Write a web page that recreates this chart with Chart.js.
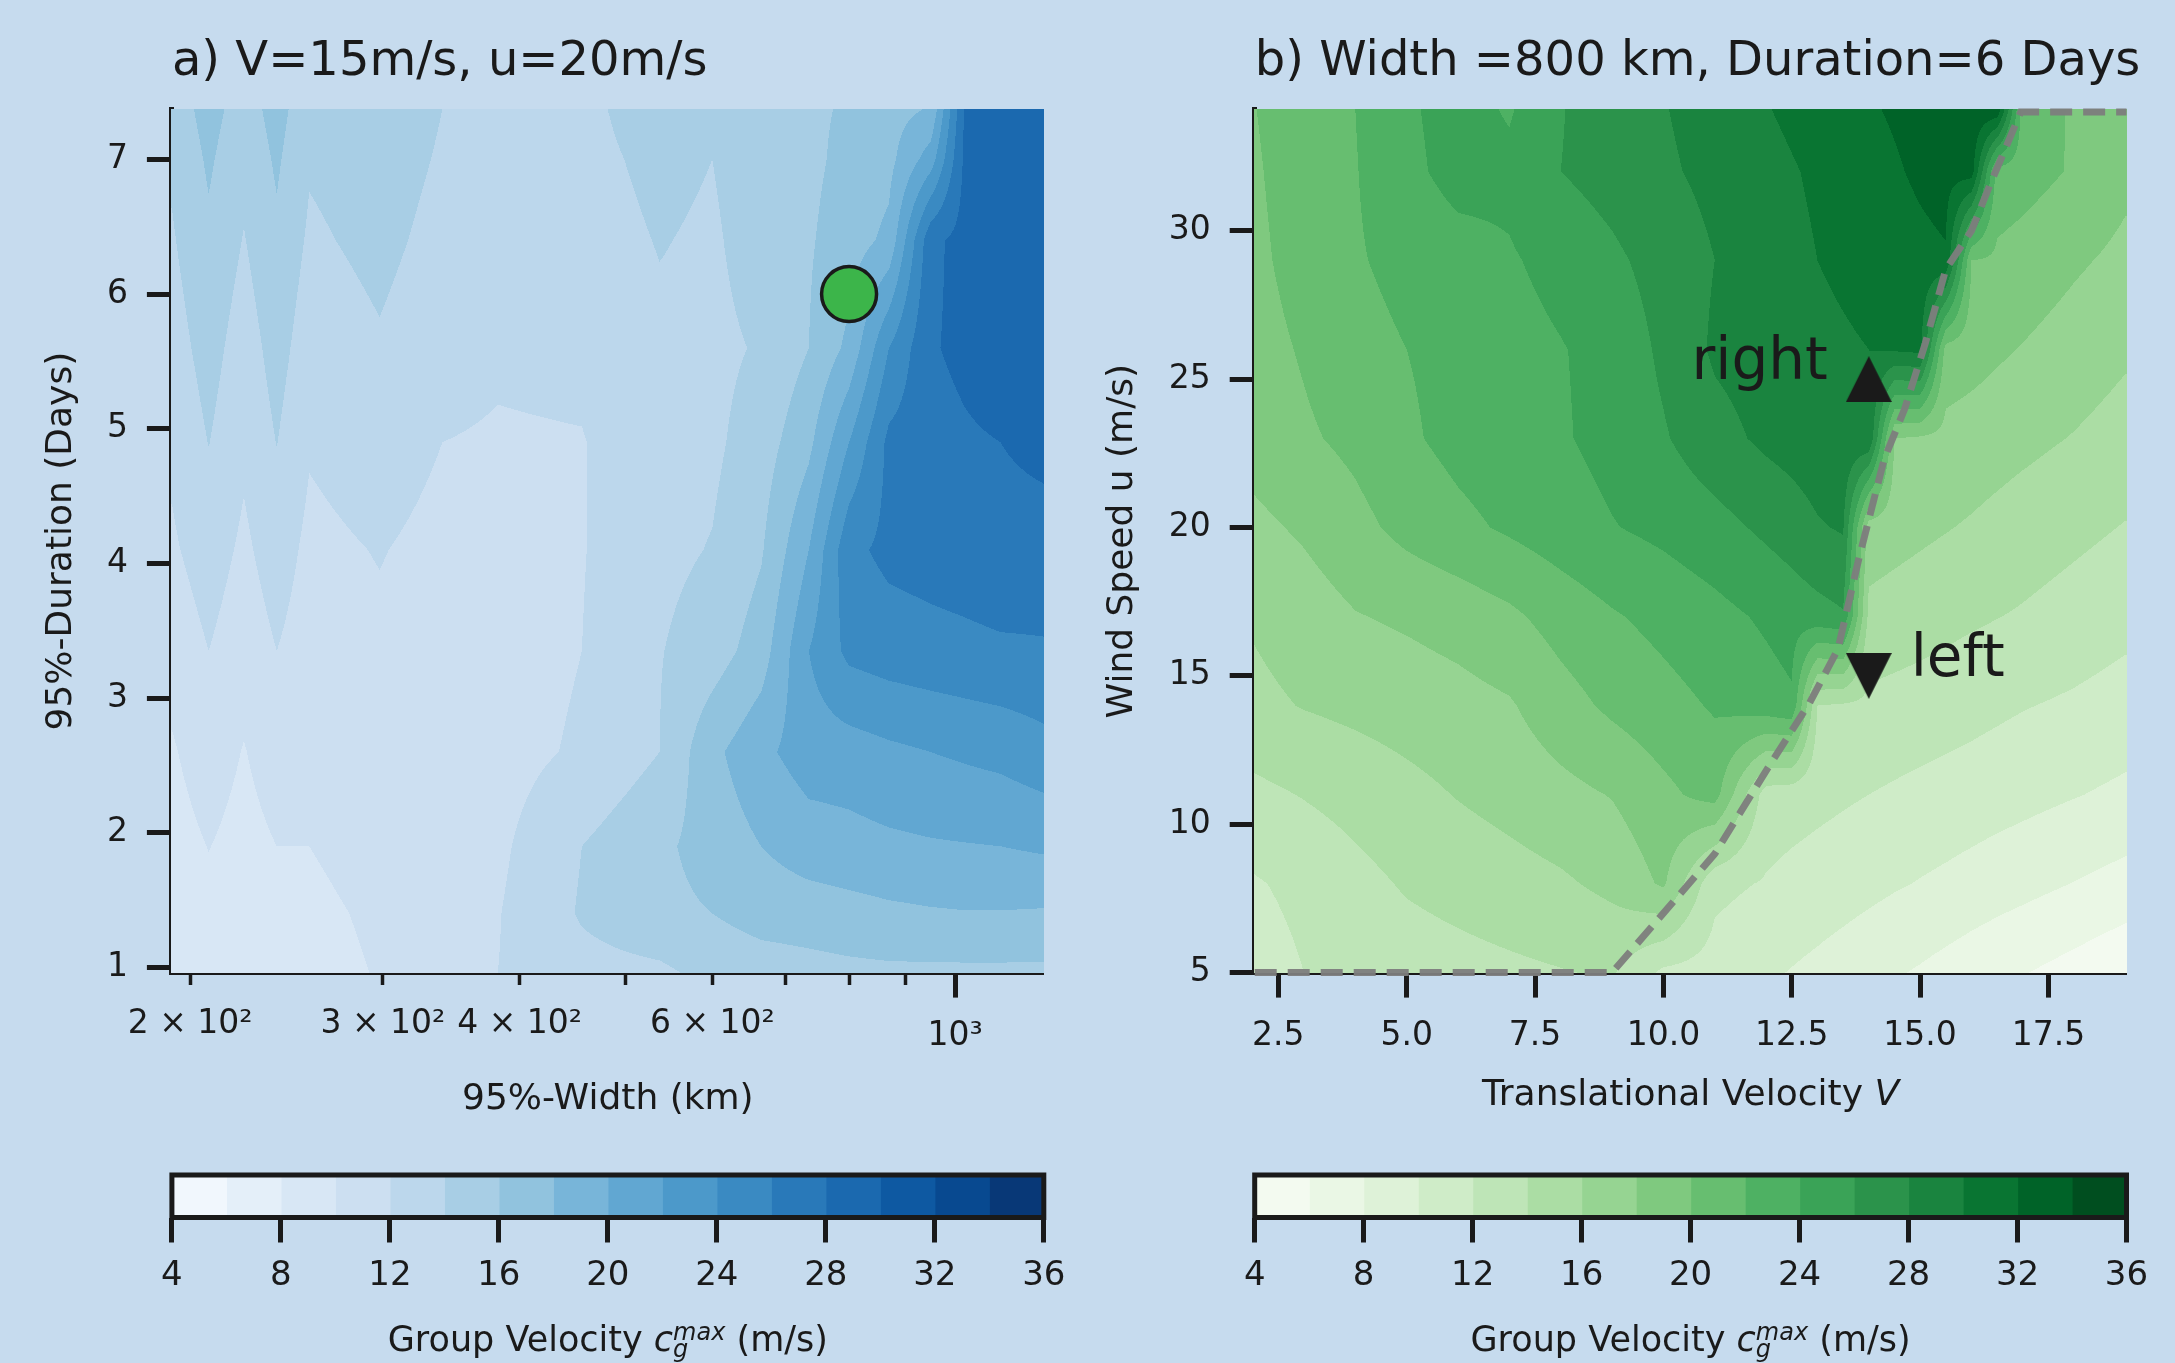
<!DOCTYPE html>
<html>
<head>
<meta charset="utf-8">
<script src="https://cdn.jsdelivr.net/npm/chart.js@4.4.0/dist/chart.umd.min.js"></script>
<style>
  html, body { margin: 0; padding: 0; background: #c6dbee; }
  #wrap { position: relative; width: 2175px; height: 1363px; overflow: hidden; }
  #wrap canvas { position: absolute; left: 0; top: 0; }
</style>
</head>
<body>
<div id="wrap">
  <canvas id="panelA" width="2175" height="1363"></canvas>
  <canvas id="panelB" width="2175" height="1363"></canvas>
  <canvas id="cbarA" width="2175" height="1363"></canvas>
  <canvas id="cbarB" width="2175" height="1363"></canvas>
</div>
<script>
// Contour levels of the group velocity (m/s), shared by both panels
const levels = [4, 6, 8, 10, 12, 14, 16, 18, 20, 22, 24, 26, 28, 30, 32, 34, 36];
const cbarTicks = [4, 8, 12, 16, 20, 24, 28, 32, 36];

// Panel a: c_g^max over storm width (km) and duration (days), V=15 m/s, u=20 m/s
const widthKm = [192.5, 208, 224, 240, 257, 298, 340, 382, 456, 537, 600, 665, 735, 800, 870, 950, 1020, 1100, 1205];
const durationDays = [0.96, 1.4, 1.9, 2.6, 3.35, 4.1, 4.9, 5.6, 6.4, 7.0, 7.37];
const cgWidthDuration = [
  [8.5, 9.2, 8.6, 9.0, 9.4, 10.1, 10.4, 12.0, 13.3, 13.6, 14.6, 15.0, 15.3, 15.5, 15.6, 15.6, 15.6, 15.6, 15.6],
  [8.8, 9.5, 8.9, 9.4, 9.6, 10.3, 10.5, 11.9, 14.2, 15.5, 16.0, 16.8, 17.0, 17.3, 17.6, 17.8, 17.9, 17.9, 17.8],
  [9.2, 10.05, 9.3, 10.0, 10.0, 10.7, 10.7, 11.6, 14.0, 15.6, 16.8, 18.0, 19.0, 19.3, 19.6, 19.8, 19.9, 20.0, 20.3],
  [9.8, 11.0, 9.9, 11.0, 10.5, 11.2, 10.9, 11.2, 12.3, 14.0, 17.5, 19.5, 21.0, 21.1, 21.6, 22.0, 22.3, 22.6, 23.3],
  [10.7, 12.0, 10.8, 12.0, 11.0, 11.6, 11.1, 11.0, 12.0, 13.9, 15.0, 17.0, 22.0, 24.5, 25.0, 25.3, 25.5, 25.7, 25.8],
  [11.7, 13.0, 11.6, 13.0, 11.5, 12.1, 11.4, 11.3, 11.9, 13.5, 14.1, 15.8, 20.0, 25.5, 26.5, 26.8, 27.0, 27.3, 27.2],
  [12.4, 14.05, 12.4, 14.05, 12.2, 13.0, 12.0, 11.8, 11.9, 13.5, 13.6, 15.0, 17.5, 22.0, 26.5, 27.2, 27.7, 28.0, 28.5],
  [13.1, 14.8, 13.0, 14.8, 12.9, 13.8, 12.8, 12.3, 12.5, 13.6, 13.5, 14.2, 16.0, 18.5, 24.0, 27.8, 28.5, 29.3, 29.3],
  [13.8, 15.6, 13.9, 15.6, 13.7, 14.5, 13.4, 12.8, 13.1, 14.1, 13.7, 15.0, 15.8, 17.0, 18.5, 27.5, 28.7, 29.3, 29.6],
  [14.3, 16.3, 14.5, 16.3, 14.2, 14.9, 13.8, 13.1, 13.4, 14.5, 14.0, 15.2, 15.6, 16.5, 17.4, 21.0, 28.4, 29.2, 29.7],
  [14.8, 16.8, 15.0, 16.8, 14.6, 15.2, 14.0, 13.3, 13.5, 15.0, 14.3, 15.3, 15.7, 16.2, 17.2, 18.2, 28.2, 29.2, 29.7]
];
const widthTicks = [200, 300, 400, 500, 600, 700, 800, 900, 1000];
const widthTickLabels = ['2 × 10²', '3 × 10²', '4 × 10²', '', '6 × 10²', '', '', '', '10³'];
const durationTicks = [1, 2, 3, 4, 5, 6, 7];
const markWidth = [800];
const markDuration = [6];

// Panel b: c_g^max over translational velocity V and wind speed u, width 800 km, 6 days
const transV = [2, 3, 4, 5, 6, 7, 8, 9, 10, 11, 12, 12.5, 13, 13.5, 14, 14.5, 15, 15.5, 16, 16.5, 17, 18, 19];
const windU = [5, 8, 11, 14, 17, 20, 23, 26, 29, 32, 34.08];
const cgVelocityWind = [
  [11.0, 12.0, 12.6, 13.0, 13.3, 13.6, 13.9, 14.2, 11.6, 11.2, 10.3, 9.9, 9.5, 9.05, 8.6, 8.2, 7.8, 7.35, 6.9, 6.5, 6.1, 5.3, 4.4],
  [11.8, 12.5, 13.4, 14.2, 14.7, 15.2, 15.7, 16.5, 18.3, 12.5, 11.85, 11.5, 11.2, 10.9, 10.55, 10.2, 9.9, 9.6, 9.25, 8.9, 8.6, 7.95, 7.3],
  [13.5, 14.1, 14.7, 15.4, 16.1, 16.7, 17.4, 18.1, 19.5, 20.8, 13.0, 12.75, 12.5, 12.25, 12.0, 11.75, 11.5, 11.3, 11.1, 10.85, 10.6, 10.1, 9.6],
  [15.5, 16.1, 16.5, 16.9, 17.3, 17.8, 19.2, 20.4, 21.3, 22.2, 23.2, 23.7, 14.0, 13.75, 13.5, 13.3, 13.1, 12.85, 12.6, 12.35, 12.1, 11.7, 11.2],
  [16.2, 17.0, 17.9, 18.3, 18.8, 19.6, 20.8, 21.8, 22.6, 23.4, 24.3, 24.8, 25.3, 25.8, 15.5, 15.2, 14.9, 14.6, 14.3, 14.05, 13.8, 13.2, 12.6],
  [17.5, 18.3, 19.4, 20.6, 21.5, 22.3, 23.1, 23.9, 24.5, 25.3, 26.4, 27.0, 27.8, 28.2, 17.0, 16.7, 16.4, 16.1, 15.8, 15.45, 15.1, 14.5, 13.9],
  [18.8, 19.7, 20.5, 21.7, 22.6, 23.2, 23.8, 24.6, 25.8, 27.3, 28.4, 28.8, 29.2, 29.6, 30.0, 18.0, 17.7, 17.4, 17.1, 16.8, 16.5, 15.9, 15.2],
  [19.2, 20.2, 21.3, 22.0, 22.6, 23.3, 23.9, 24.6, 26.4, 28.3, 28.9, 29.15, 29.4, 29.7, 30.0, 30.25, 30.5, 19.2, 18.8, 18.3, 17.9, 17.1, 16.3],
  [19.5, 20.8, 21.8, 22.6, 23.2, 23.8, 24.6, 25.6, 26.8, 28.0, 29.0, 29.5, 30.0, 30.4, 30.8, 31.15, 31.5, 31.8, 20.0, 19.6, 19.2, 18.3, 17.5],
  [19.7, 21.1, 21.9, 23.5, 24.7, 24.5, 26.0, 26.8, 27.7, 28.5, 29.4, 29.85, 30.3, 30.8, 31.3, 31.8, 32.3, 32.7, 33.0, 21.2, 20.8, 19.8, 18.5],
  [19.9, 21.2, 22.0, 23.7, 24.8, 23.8, 25.9, 27.0, 27.9, 28.8, 29.9, 30.35, 30.8, 31.3, 31.8, 32.2, 32.6, 33.0, 33.5, 33.6, 21.0, 19.8, 19.3]
];
const vTicks = [2.5, 5, 7.5, 10, 12.5, 15, 17.5];
const vTickLabels = ['2.5', '5.0', '7.5', '10.0', '12.5', '15.0', '17.5'];
const uTicks = [5, 10, 15, 20, 25, 30];
// left/right separation line
const splitV = [2.04, 9.0, 11.0, 12.0, 12.85, 13.4, 13.8, 14.3, 14.7, 15.1, 15.5, 16.0, 16.35, 16.96, 19.02];
const splitU = [5.0, 5.0, 9.0, 11.8, 14.1, 15.9, 18.9, 22.3, 24.0, 26.2, 28.7, 30.0, 31.5, 34.0, 34.0];
const markV = [14, 14];
const markU = [25, 15];
const markText = ['right', 'left'];

// ---- styling helpers ----
const FONT = '"DejaVu Sans", sans-serif';
const INK = '#1a1a1a';
const bluesAnchors = ['#f7fbff', '#deebf7', '#c6dbef', '#9ecae1', '#6baed6', '#4292c6', '#2171b5', '#08519c', '#08306b'];
const greensAnchors = ['#f7fcf5', '#e5f5e0', '#c7e9c0', '#a1d99b', '#74c476', '#41ab5d', '#238b45', '#006d2c', '#00441b'];

function hexToRgb(h) {
  return [1, 3, 5].map(i => parseInt(h.slice(i, i + 2), 16));
}
function sampleMap(anchors, t) {
  const pos = t * (anchors.length - 1);
  const i = Math.min(anchors.length - 2, Math.floor(pos));
  const f = pos - i;
  const a = hexToRgb(anchors[i]), b = hexToRgb(anchors[i + 1]);
  return 'rgb(' + a.map((c, k) => Math.round(c + (b[k] - c) * f)).join(',') + ')';
}
function bandColors(anchors) {
  const n = levels.length - 1;
  return levels.slice(0, -1).map((_, i) => sampleMap(anchors, (i + 0.5) / n));
}
const bluesBands = bandColors(bluesAnchors);
const greensBands = bandColors(greensAnchors);

// filled contours: bilinear interpolation of the grid, banded at the contour levels
function contourPlugin(xs, ys, grid, colors, logX) {
  const rgb = colors.map(c => c.match(/\d+/g).map(Number));
  const fx = logX ? Math.log10 : (v => v);
  const locate = (g, v) => {
    let k = 0;
    while (k < g.length - 2 && v > g[k + 1]) k++;
    const t = Math.min(1, Math.max(0, (v - g[k]) / (g[k + 1] - g[k])));
    return [k, t];
  };
  return {
    id: 'contourFill',
    beforeDatasetsDraw(chart) {
      const {ctx, chartArea: a, scales} = chart;
      const gx = xs.map(fx);
      const x0 = Math.floor(a.left), y0 = Math.floor(a.top);
      const w = Math.ceil(a.right) - x0, h = Math.ceil(a.bottom) - y0;
      const cols = [], rows = [];
      for (let i = 0; i < w; i++) cols.push(locate(gx, fx(scales.x.getValueForPixel(x0 + i + 0.5))));
      for (let j = 0; j < h; j++) rows.push(locate(ys, scales.y.getValueForPixel(y0 + j + 0.5)));
      const img = ctx.createImageData(w, h);
      const d = img.data;
      for (let j = 0; j < h; j++) {
        const [r, tr] = rows[j];
        const g0 = grid[r], g1 = grid[r + 1];
        for (let i = 0; i < w; i++) {
          const [c, tc] = cols[i];
          const v = (1 - tr) * ((1 - tc) * g0[c] + tc * g0[c + 1]) +
                    tr * ((1 - tc) * g1[c] + tc * g1[c + 1]);
          if (v < levels[0] || v > levels[levels.length - 1]) continue;
          let b = 0;
          while (b < levels.length - 2 && v >= levels[b + 1]) b++;
          const p = (j * w + i) * 4;
          d[p] = rgb[b][0]; d[p + 1] = rgb[b][1]; d[p + 2] = rgb[b][2]; d[p + 3] = 255;
        }
      }
      ctx.putImageData(img, x0, y0);
    }
  };
}

function panelTitle(text) {
  return {
    id: 'panelTitle',
    afterDraw(chart) {
      const {ctx, chartArea} = chart;
      ctx.save();
      ctx.font = '48px ' + FONT;
      ctx.fillStyle = INK;
      ctx.textAlign = 'left';
      ctx.textBaseline = 'alphabetic';
      ctx.fillText(text, chartArea.left, 75);
      ctx.restore();
    }
  };
}

// draws a label made of runs of text with their own font and baseline shift, centred on cx
function drawRuns(ctx, runs, cx, baseline) {
  const widths = runs.map(r => { ctx.font = r.f; return r.stack ? 0 : ctx.measureText(r.t).width; });
  runs.forEach((r, i) => {
    if (r.stack) { ctx.font = r.f; widths[i - 1] = Math.max(widths[i - 1], ctx.measureText(r.t).width); }
  });
  const total = widths.reduce((s, w) => s + w, 0);
  let x = cx - total / 2;
  let prevX = x;
  ctx.fillStyle = INK;
  ctx.textAlign = 'left';
  ctx.textBaseline = 'alphabetic';
  runs.forEach((r, i) => {
    ctx.font = r.f;
    if (r.stack) { ctx.fillText(r.t, prevX, baseline + r.dy); return; }
    ctx.fillText(r.t, x, baseline + r.dy);
    prevX = x;
    x += widths[i];
  });
}

function fixedTicks(values) {
  return scale => { scale.ticks = values.map(v => ({value: v})); };
}

const tickFont = {family: FONT, size: 33};
const titleFont = {family: FONT, size: 36};

function yAxis(min, max, ticks, width, title, titlePad) {
  return {
    type: 'linear', min, max,
    afterBuildTicks: fixedTicks(ticks),
    afterFit: s => { s.width = width; },
    border: {display: true, width: 5, color: INK},
    grid: {drawOnChartArea: false, tickLength: 25, tickWidth: 5, tickColor: INK},
    ticks: {font: tickFont, color: INK, padding: 19, autoSkip: false},
    title: {display: true, text: title, font: titleFont, color: INK, padding: {top: titlePad, bottom: 0}}
  };
}

const baseOptions = {
  responsive: false,
  animation: false,
  devicePixelRatio: 1,
  events: [],
  plugins: {legend: {display: false}, tooltip: {enabled: false}}
};

// ---- panel a ----
new Chart(document.getElementById('panelA'), {
  type: 'scatter',
  data: {
    datasets: [{
      data: markWidth.map((w, i) => ({x: w, y: markDuration[i]})),
      pointRadius: 27.5,
      pointBackgroundColor: '#3cb54a',
      pointBorderColor: INK,
      pointBorderWidth: 3.5,
      clip: false
    }]
  },
  options: {
    ...baseOptions,
    layout: {padding: {left: 20, top: 109.7, right: 1131.2, bottom: 240.4}},
    scales: {
      x: {
        type: 'logarithmic', min: 192.5, max: 1205,
        afterBuildTicks: s => { s.ticks = widthTicks.map(v => ({value: v, major: v === 1000})); },
        afterFit: s => { s.height = 150; },
        border: {display: true, width: 5, color: INK},
        grid: {
          drawOnChartArea: false, tickLength: 25, tickColor: INK,
          tickWidth: c => (c.tick && c.tick.major ? 5 : 3.5),
          tickBorderDash: c => (c.tick && c.tick.major ? [] : [10, 200])
        },
        ticks: {
          // the major (10³) label sits lower, below its longer tick
          font: c => (c.tick && c.tick.major ? {family: FONT, size: 33, lineHeight: 0.64} : tickFont),
          color: INK, padding: 7, maxRotation: 0, autoSkip: false,
          callback: (v, i) => (widthTicks[i] === 1000 ? ['', widthTickLabels[i]] : widthTickLabels[i])
        },
        title: {display: true, text: '95%-Width (km)', font: titleFont, color: INK, padding: {top: 0, bottom: 1}}
      },
      y: yAxis(0.962, 7.369, durationTicks, 151.9, '95%-Duration (Days)', 19.8)
    }
  },
  plugins: [contourPlugin(widthKm, durationDays, cgWidthDuration, bluesBands, true),
            panelTitle('a) V=15m/s, u=20m/s')]
});

// ---- panel b ----
function triangleImage(up) {
  const c = document.createElement('canvas');
  c.width = 46; c.height = 46;
  const g = c.getContext('2d');
  g.fillStyle = INK;
  g.beginPath();
  if (up) { g.moveTo(23, 0); g.lineTo(46, 46); g.lineTo(0, 46); }
  else { g.moveTo(0, 0); g.lineTo(46, 0); g.lineTo(23, 46); }
  g.closePath();
  g.fill();
  return c;
}

const panelBText = {
  id: 'panelBText',
  afterDatasetsDraw(chart) {
    const {ctx, chartArea: a, scales: {x, y}} = chart;
    ctx.save();
    ctx.font = '58px ' + FONT;
    ctx.fillStyle = INK;
    ctx.textBaseline = 'alphabetic';
    markText.forEach((t, i) => {
      const px = x.getPixelForValue(markV[i]);
      const py = y.getPixelForValue(markU[i]);
      if (i === 0) { ctx.textAlign = 'right'; ctx.fillText(t, px - 41, py); }
      else { ctx.textAlign = 'left'; ctx.fillText(t, px + 42, py); }
    });
    // x axis label with italic V
    drawRuns(ctx, [
      {t: 'Translational Velocity ', f: '36px ' + FONT, dy: 0},
      {t: 'V', f: 'italic 36px ' + FONT, dy: 0}
    ], (a.left + a.right) / 2, 1105);
    ctx.restore();
  }
};

new Chart(document.getElementById('panelB'), {
  type: 'scatter',
  data: {
    datasets: [
      {
        type: 'line',
        data: splitV.map((v, i) => ({x: v, y: splitU[i]})),
        showLine: true,
        pointRadius: 0,
        borderColor: 'rgba(125,125,125,0.95)',
        borderWidth: 7,
        borderDash: [22, 11],
        tension: 0,
        clip: false
      },
      {
        data: markV.map((v, i) => ({x: v, y: markU[i]})),
        pointStyle: [triangleImage(true), triangleImage(false)],
        clip: false
      }
    ]
  },
  options: {
    ...baseOptions,
    layout: {padding: {left: 1101.4, top: 109.7, right: 48.5, bottom: 240.4}},
    scales: {
      x: {
        type: 'linear', min: 2.04, max: 19.02,
        afterBuildTicks: fixedTicks(vTicks),
        afterFit: s => { s.height = 150; },
        border: {display: true, width: 5, color: INK},
        grid: {drawOnChartArea: false, tickLength: 25, tickWidth: 5, tickColor: INK},
        ticks: {
          font: tickFont, color: INK, padding: 19, maxRotation: 0, autoSkip: false,
          callback: (v, i) => vTickLabels[i]
        }
      },
      y: yAxis(5, 34.08, uTicks, 153.3, 'Wind Speed u (m/s)', 0)
    }
  },
  plugins: [contourPlugin(transV, windU, cgVelocityWind, greensBands, false),
            panelBText,
            panelTitle('b) Width =800 km, Duration=6 Days')]
});

// ---- colorbars ----
const cbarDecor = {
  id: 'cbarDecor',
  afterDraw(chart) {
    const {ctx, chartArea: a} = chart;
    ctx.save();
    ctx.strokeStyle = INK;
    ctx.lineWidth = 5;
    ctx.strokeRect(a.left, a.top, a.right - a.left, a.bottom - a.top);
    // Group Velocity c_g^max (m/s)
    drawRuns(ctx, [
      {t: 'Group Velocity ', f: '35px ' + FONT, dy: 0},
      {t: 'c', f: 'italic 35px ' + FONT, dy: 0},
      {t: 'max', f: 'italic 24px ' + FONT, dy: -11},
      {t: 'g', f: 'italic 24px ' + FONT, dy: 6, stack: true},
      {t: ' (m/s)', f: '35px ' + FONT, dy: 0}
    ], (a.left + a.right) / 2, 1351);
    ctx.restore();
  }
};

function colorbar(canvasId, bands, left, right) {
  return new Chart(document.getElementById(canvasId), {
    type: 'bar',
    data: {
      labels: [''],
      datasets: levels.slice(0, -1).map((lo, i) => ({
        data: [[lo, levels[i + 1]]],
        backgroundColor: bands[i],
        borderWidth: 0,
        grouped: false,
        barPercentage: 1,
        categoryPercentage: 1,
        inflateAmount: 0.6
      }))
    },
    options: {
      ...baseOptions,
      indexAxis: 'y',
      layout: {padding: {left: left, top: 1175, right: 2175 - right, bottom: 45.5}},
      scales: {
        x: {
          type: 'linear', min: 4, max: 36,
          afterBuildTicks: fixedTicks(cbarTicks),
          afterFit: s => { s.height = 100; },
          border: {display: false},
          grid: {drawOnChartArea: false, tickLength: 25, tickWidth: 5, tickColor: INK},
          ticks: {font: {family: FONT, size: 34}, color: INK, padding: 13, maxRotation: 0, autoSkip: false}
        },
        y: {display: false}
      }
    },
    plugins: [cbarDecor]
  });
}

colorbar('cbarA', bluesBands, 171.9, 1043.8);
colorbar('cbarB', greensBands, 1254.7, 2126.5);
</script>
</body>
</html>
